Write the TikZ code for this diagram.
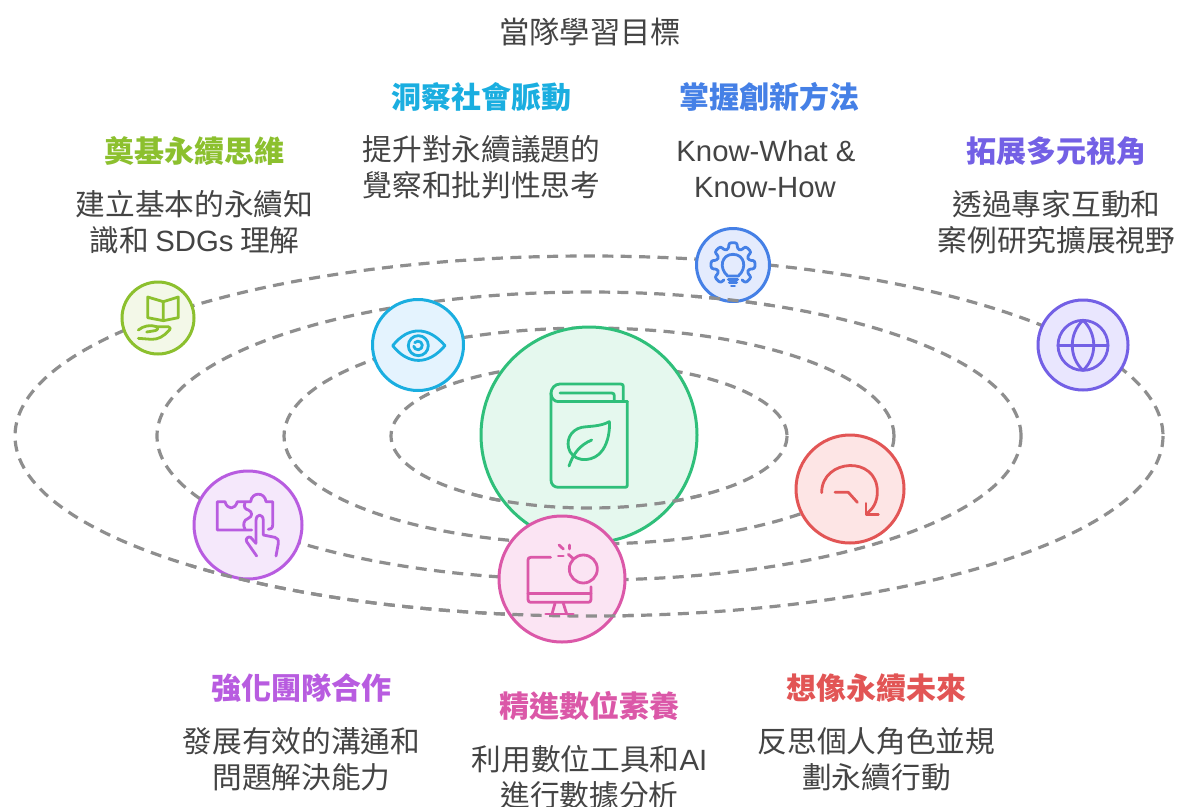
\documentclass[tikz,border=0pt]{standalone}
\usepackage{fontspec}
\setmainfont{Noto Sans CJK TC}
\newfontfamily\latfont{Liberation Sans}
\definecolor{limeC}{HTML}{8CC02E}\definecolor{limeF}{HTML}{F3F8E8}
\definecolor{skyC}{HTML}{1AAEE0}\definecolor{skyF}{HTML}{E4F3FE}
\definecolor{blueC}{HTML}{4580E6}\definecolor{blueF}{HTML}{E4EBFD}
\definecolor{greenC}{HTML}{2FBF7A}\definecolor{greenF}{HTML}{E5F8EE}
\definecolor{purpC}{HTML}{B85CE0}\definecolor{purpF}{HTML}{F5E8FB}
\definecolor{pinkC}{HTML}{DB58A8}\definecolor{pinkF}{HTML}{FBE4F3}
\definecolor{redC}{HTML}{E25555}\definecolor{redF}{HTML}{FDE5E5}
\definecolor{violC}{HTML}{7360E5}\definecolor{violF}{HTML}{E9E6FE}
\definecolor{txtC}{HTML}{444444}\definecolor{orbitC}{HTML}{8E8E8E}
\newcommand{\bodysize}{\fontsize{29.7}{36}\selectfont}
\newcommand{\headsize}{\fontsize{30}{36}\selectfont\bfseries}
\newcommand{\latin}{\fontsize{29.3}{36}\selectfont\latfont}
\tikzset{
 orbit/.style={draw=orbitC,line width=3.2pt,dash pattern=on 11pt off 7.4pt},
 badge/.style={circle,inner sep=0pt,line width=3pt,minimum size=#1},
 icon/.style={line width=2.8pt,line cap=round,line join=round},
 zoomed/.style={x=0.33333pt,y=-0.33333pt},
 txt/.style={text=txtC,font=\bodysize,inner sep=0pt,anchor=base,yshift=-0.6pt},
 head/.style={font=\headsize,inner sep=0pt,anchor=base,yshift=-1pt}
}
\begin{document}
\begin{tikzpicture}[x=1pt,y=-1pt]
\useasboundingbox (0,0) rectangle (1177,806);
\fill[white] (0,0) rectangle (1177,806);
\draw[orbit] (589,436) ellipse [x radius=574,y radius=180];
\draw[orbit] (589,436) ellipse [x radius=432,y radius=144];
\draw[orbit] (589,436) ellipse [x radius=305,y radius=108];
\draw[orbit] (589,436) ellipse [x radius=198,y radius=72];
% badges
\node[badge=72pt,draw=limeC,fill=limeF] (lime) at (158,318) {};
\node[badge=91pt,draw=skyC,fill=skyF] (eye) at (418,345) {};
\node[badge=73pt,draw=blueC,fill=blueF] (gear) at (733,265) {};
\node[badge=216pt,draw=greenC,fill=greenF] (core) at (589,435) {};
\node[badge=108pt,draw=purpC,fill=purpF] (puzzle) at (248,525) {};
\node[badge=108pt,draw=redC,fill=redF] (arrow) at (850,489) {};
\node[badge=90pt,draw=violC,fill=violF] (globe) at (1083,345) {};
\begin{scope}
 \clip (470,436) rectangle (710,560);
 \draw[orbit] (589,436) ellipse [x radius=198,y radius=72];
\end{scope}
\begin{scope}
 \clip (695,285) rectangle (770,310);
 \draw[orbit] (589,436) ellipse [x radius=432,y radius=144];
\end{scope}
\node[badge=126pt,draw=pinkC,fill=pinkF] (screen) at (562,579) {};
\begin{scope}
 \clip (190,560) rectangle (640,630);
 \draw[orbit] (589,436) ellipse [x radius=574,y radius=180];
\end{scope}
% lime icon
\begin{scope}[shift={(100,220)},zoomed,icon,draw=limeC]
 \draw (143,231) -- (190,245) -- (190,302) -- (143,293) -- cycle;
 \draw (190,245) -- (235,231) -- (235,293) -- (190,302);
 \draw (115,330) .. controls (130,318) and (150,313) .. (170,320) -- (205,320) .. controls (213,320) and (212,328) .. (205,333) .. controls (190,350) and (175,358) .. (155,358) -- (115,355);
 \draw (140,336) -- (165,332) .. controls (175,330) and (175,322) .. (170,320);
\end{scope}
% eye icon
\begin{scope}[shift={(100,220)},zoomed,icon,draw=skyC]
 \draw (878,377) .. controls (925,318) and (985,318) .. (1035,377) .. controls (985,436) and (925,436) .. (878,377) -- cycle;
 \draw (955,377) circle [radius=30];
 \draw (944,368) arc [start angle=-140,end angle=170,radius=13];
\end{scope}
% gear icon
\begin{scope}[shift={(470,220)},zoomed,icon,draw=blueC]
 \begin{scope}[shift={(789,134)}]
 \draw[rounded corners=2.5pt] (121:55)
   \foreach \a in {135,180,225,270,315,360,405}{ -- ({\a-15}:49) -- ({\a-11}:67) -- ({\a+11}:67) -- ({\a+15}:49)}
   -- (59:55);
 \end{scope}
 \draw (773,168) .. controls (745,143) and (755,103) .. (789,103) .. controls (823,103) and (833,143) .. (805,168) -- cycle;
 \draw (775,178) -- (803,178);
 \draw (778,188) -- (800,188);
 \draw (784,198) -- (794,198);
\end{scope}
% book icon
\begin{scope}[shift={(470,220)},zoomed,icon,draw=greenC]
 \draw (265,545) .. controls (252,545) and (243,533) .. (243,520) .. controls (243,505) and (255,492) .. (270,492) -- (452,492) .. controls (458,492) and (460,495) .. (460,500) -- (460,545);
 \draw (472,545) -- (265,545);
 \draw (243,520) -- (243,780) .. controls (243,793) and (252,802) .. (265,802) -- (465,802) .. controls (470,802) and (472,800) .. (472,795) -- (472,545);
 \draw (270,519) -- (425,519) .. controls (431,519) and (433,522) .. (433,528) -- (433,545);
 \draw (418,605) .. controls (390,620) and (360,618) .. (335,622) .. controls (300,630) and (285,665) .. (300,695) .. controls (320,730) and (375,725) .. (398,690) .. controls (415,665) and (420,630) .. (418,605) -- cycle;
 \draw (297,738) .. controls (310,700) and (330,675) .. (365,660);
\end{scope}
% puzzle icon
\begin{scope}[shift={(180,460)},zoomed,icon,draw=purpC]
 \draw (215,210) -- (112,210) -- (112,125) -- (135,125) .. controls (142,150) and (165,150) .. (172,125) -- (212,125) .. controls (215,95) and (255,95) .. (258,125) -- (278,125) -- (278,195) .. controls (278,205) and (272,208) .. (265,208);
 \draw (195,128) .. controls (190,140) and (195,148) .. (205,150) .. controls (218,155) and (218,170) .. (205,175) .. controls (190,180) and (188,195) .. (195,208);
 \draw (228,250) -- (228,182) .. controls (228,160) and (250,160) .. (250,182) -- (250,225) -- (285,232) .. controls (293,234) and (296,240) .. (295,250) -- (288,288);
 \draw (228,250) -- (212,232) .. controls (205,228) and (195,236) .. (200,245) -- (230,288);
\end{scope}
% monitor icon
\begin{scope}[shift={(180,460)},zoomed,icon,draw=pinkC]
 \draw (1112,292) -- (1052,292) .. controls (1047,292) and (1044,295) .. (1044,300) -- (1044,418) .. controls (1044,424) and (1047,427) .. (1052,427) -- (1225,427) .. controls (1230,427) and (1233,424) .. (1233,418) -- (1233,380);
 \draw (1044,401) -- (1233,401);
 \draw (1125,430) -- (1116,462);
 \draw (1150,430) -- (1160,462);
 \draw (1097,462) -- (1180,462);
 \draw (1210,327) circle [radius=42];
 \draw (1135,288) -- (1150,288);
 \draw (1137,255) -- (1150,267);
 \draw (1168,255) -- (1168,267);
 \draw (1165,283) -- (1180,296);
\end{scope}
% return icon
\begin{scope}[shift={(780,290)},zoomed,icon,draw=redC]
 \draw (125,608) .. controls (125,505) and (292,495) .. (292,605) .. controls (292,635) and (280,655) .. (262,670);
 \draw (258,640) -- (258,673) -- (295,673);
 \draw (165,607) -- (205,607) -- (232,637);
\end{scope}
% globe icon
\begin{scope}[shift={(780,290)},zoomed,icon,draw=violC]
 \draw (909,166) circle [radius=75];
 \draw (834,166) -- (984,166);
 \draw (909,91) .. controls (952,130) and (952,202) .. (909,241) .. controls (866,202) and (866,130) .. (909,91) -- cycle;
\end{scope}
% texts
\node[txt,font=\fontsize{30.3}{36}\selectfont] (title) at (590,43) {當隊學習目標};
\node[head,text=skyC] (h2) at (481,107) {洞察社會脈動};
\node[txt] (b2a) at (481.5,160) {提升對永續議題的};
\node[txt] (b2b) at (481.5,196) {覺察和批判性思考};
\node[head,text=blueC] (h3) at (769,107) {掌握創新方法};
\node[txt] (b3a) at (766,160.5) {\latin Know-What \&};
\node[txt] (b3b) at (765,196.5) {\latin Know-How};
\node[head,text=limeC] (h1) at (194.5,161) {奠基永續思維};
\node[txt] (b1a) at (194.5,215) {建立基本的永續知};
\node[txt] (b1b) at (194.5,251) {識和 {\latin SDGs} 理解};
\node[head,text=violC] (h4) at (1056,161) {拓展多元視角};
\node[txt] (b4a) at (1056.5,215) {透過專家互動和};
\node[txt] (b4b) at (1056.5,251) {案例研究擴展視野};
\node[head,text=purpC] (h5) at (301.5,698) {強化團隊合作};
\node[txt] (b5a) at (301.5,752) {發展有效的溝通和};
\node[txt] (b5b) at (301.5,788) {問題解決能力};
\node[head,text=pinkC] (h6) at (589.5,716) {精進數位素養};
\node[txt] (b6a) at (589.5,770) {利用數位工具和{\latin AI}};
\node[txt] (b6b) at (589.5,806) {進行數據分析};
\node[head,text=redC] (h7) at (876.5,698) {想像永續未來};
\node[txt] (b7a) at (876.5,752) {反思個人角色並規};
\node[txt] (b7b) at (876.5,788) {劃永續行動};
\end{tikzpicture}
\end{document}
